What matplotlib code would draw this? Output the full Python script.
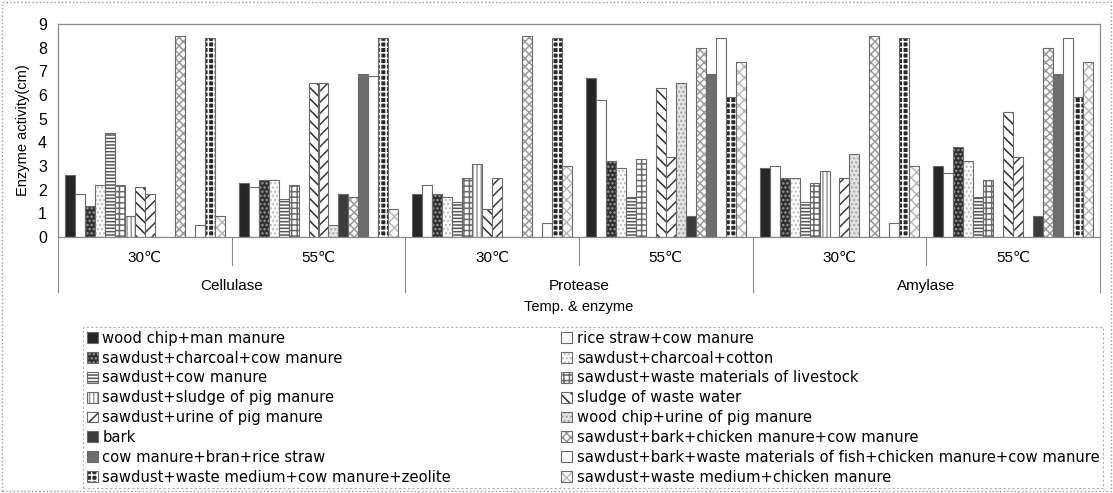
import numpy as np
import matplotlib
matplotlib.use("Agg")
import matplotlib.pyplot as plt
from matplotlib.patches import Patch, Rectangle

plt.rcParams["font.family"] = ["Liberation Sans", "DejaVu Sans"]
plt.rcParams["hatch.linewidth"] = 1.1

# compost mixtures (legend order, row-major in the original)
series = [
    "wood chip+man manure",
    "rice straw+cow manure",
    "sawdust+charcoal+cow manure",
    "sawdust+charcoal+cotton",
    "sawdust+cow manure",
    "sawdust+waste materials of livestock",
    "sawdust+sludge of pig manure",
    "sludge of waste water",
    "sawdust+urine of pig manure",
    "wood chip+urine of pig manure",
    "bark",
    "sawdust+bark+chicken manure+cow manure",
    "cow manure+bran+rice straw",
    "sawdust+bark+waste materials of fish+chicken manure+cow manure",
    "sawdust+waste medium+cow manure+zeolite",
    "sawdust+waste medium+chicken manure",
]

temps = ["30\u2103", "55\u2103"]
enzymes = ["Cellulase", "Protease", "Amylase"]

# enzyme activity (cm), one list per temp/enzyme group, in series order
cellulase_30 = [2.6, 1.8, 1.3, 2.2, 4.4, 2.2, 0.9, 2.1, 1.8, 0, 0, 8.5, 0, 0.5, 8.4, 0.9]
cellulase_55 = [2.3, 2.1, 2.4, 2.4, 1.6, 2.2, 0, 6.5, 6.5, 0.5, 1.8, 1.7, 6.9, 6.8, 8.4, 1.2]
protease_30 = [1.8, 2.2, 1.8, 1.7, 1.5, 2.5, 3.1, 1.2, 2.5, 0, 0, 8.5, 0, 0.6, 8.4, 3.0]
protease_55 = [6.7, 5.8, 3.2, 2.9, 1.7, 3.3, 0, 6.3, 3.4, 6.5, 0.9, 8.0, 6.9, 8.4, 5.9, 7.4]
amylase_30 = [2.9, 3.0, 2.5, 2.5, 1.5, 2.3, 2.8, 0, 2.5, 3.5, 0, 8.5, 0, 0.6, 8.4, 3.0]
amylase_55 = [3.0, 2.7, 3.8, 3.2, 1.7, 2.4, 0, 5.3, 3.4, 0, 0.9, 8.0, 6.9, 8.4, 5.9, 7.4]

groups = [cellulase_30, cellulase_55, protease_30, protease_55, amylase_30, amylase_55]
vals = np.array(groups).T  # shape (16 series, 6 groups)

# grayscale fills: (face, hatch, hatch colour)
styles = [
    ("#262626", None, "#262626"),
    ("white", None, "white"),
    ("#303030", "....", "#9a9a9a"),
    ("white", "....", "#bdbdbd"),
    ("white", "-----", "#555555"),
    ("white", "+++", "#6a6a6a"),
    ("white", "||||", "#9a9a9a"),
    ("white", "\\\\\\", "#2e2e2e"),
    ("white", "///", "#3a3a3a"),
    ("#e4e4e4", "....", "#a8a8a8"),
    ("#3c3c3c", None, "#3c3c3c"),
    ("white", "xxxx", "#9a9a9a"),
    ("#6e6e6e", None, "#6e6e6e"),
    ("white", None, "white"),
    ("#2a2a2a", "+++", "white"),
    ("white", "xxx", "#b8b8b8"),
]
outline = "#6a6a6a"

fig = plt.figure(figsize=(11.13, 4.93), dpi=100)
ax = fig.add_axes([58 / 1113, 1 - 237 / 493, (1100 - 58) / 1113, 213 / 493])

x = np.arange(len(groups))
n = len(series)
w = 0.0575
handles = []
for i in range(n):
    face, hatch, hcol = styles[i]
    pos = x + (i - (n - 1) / 2) * w
    ax.bar(pos, vals[i], w, color=face, edgecolor=hcol, hatch=hatch, linewidth=0)
    ax.bar(pos, vals[i], w, fill=False, edgecolor=outline, linewidth=0.8)
    handles.append((Patch(facecolor=face, edgecolor=hcol, hatch=hatch, linewidth=0),
                    Patch(fill=False, edgecolor=outline, linewidth=0.8)))

ax.set_xlim(-0.5, len(groups) - 0.5)
ax.set_ylim(0, 9)
ax.set_yticks(range(10))
ax.set_xticks([])
ax.tick_params(axis="y", length=0, pad=8, labelsize=11.5)
for s in ax.spines.values():
    s.set_color("#8a8a8a")
    s.set_linewidth(0.9)
ax.set_ylabel("Enzyme activity(cm)", fontsize=10.5, labelpad=6)

# two-level category axis
trans = ax.get_xaxis_transform()
for k in range(len(groups)):
    ax.text(k, -0.1, temps[k % 2], transform=trans, ha="center", va="center", fontsize=11)
for j, name in enumerate(enzymes):
    ax.text(2 * j + 0.5, -0.228, name, transform=trans, ha="center", va="center", fontsize=11)
for b in np.arange(-0.5, len(groups), 1.0):
    depth = -0.258 if int(b + 0.5) % 2 == 0 else -0.131
    ax.plot([b, b], [0, depth], transform=trans, color="#8a8a8a", lw=0.8, clip_on=False)
ax.text(2.5, -0.33, "Temp. & enzyme", transform=trans, ha="center", va="center", fontsize=10.5)

# legend: left column odd items, right column even items
order = list(range(0, n, 2)) + list(range(1, n, 2))
leg = fig.legend([handles[i] for i in order], [series[i] for i in order],
                 ncol=2, mode="expand", loc="upper left",
                 bbox_to_anchor=(83 / 1113, 0.006, (1103 - 83) / 1113, 1 - 0.006 - 327 / 493),
                 borderaxespad=0, handlelength=0.75, handleheight=0.75,
                 handletextpad=0.3, labelspacing=0.33, borderpad=0.25,
                 prop={"family": "DejaVu Sans", "size": 10.6},
                 fancybox=False, frameon=True)
leg.get_frame().set_edgecolor("#9a9a9a")
leg.get_frame().set_linestyle((0, (2, 2)))
leg.get_frame().set_linewidth(0.8)

# dotted outer border around the whole chart
fig.patches.append(Rectangle((0.002, 0.004), 0.996, 0.992, transform=fig.transFigure,
                             fill=False, edgecolor="#999999", linestyle=":", linewidth=1.0))

fig.savefig("out.png", dpi=100)
